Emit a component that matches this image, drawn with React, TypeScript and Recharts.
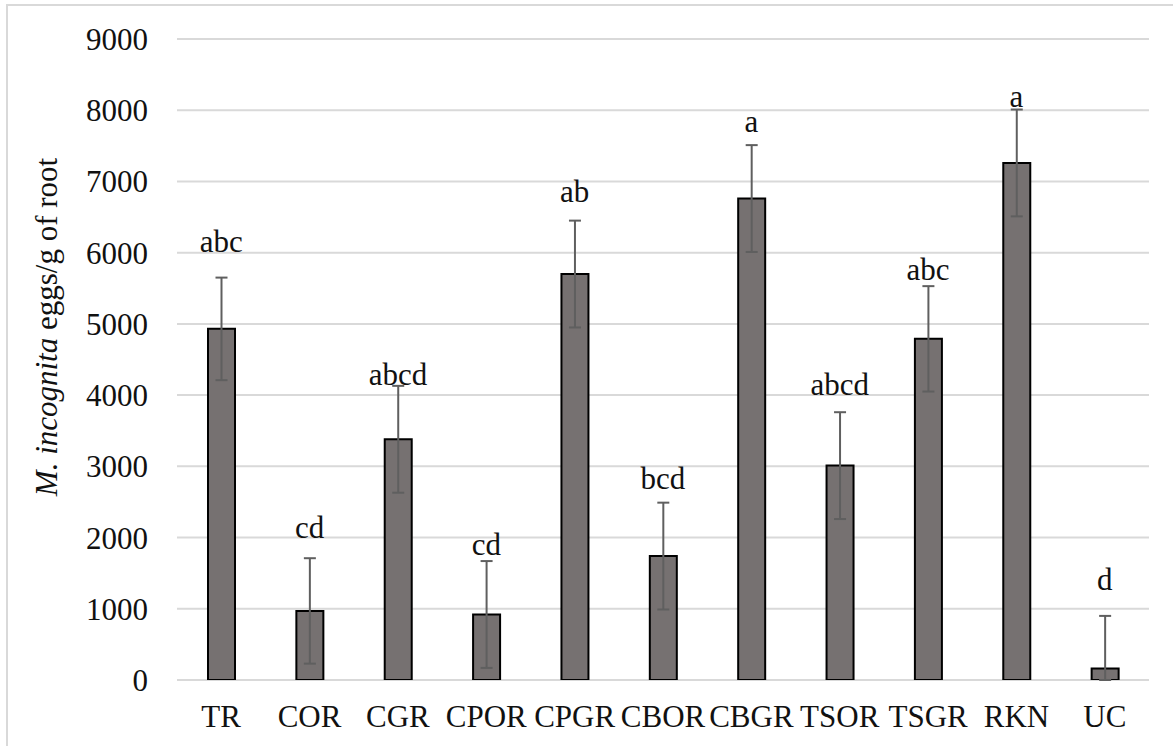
import { ComposedChart, Bar, ErrorBar, Scatter, XAxis, YAxis, CartesianGrid } from "recharts";

const treatments = ["TR", "COR", "CGR", "CPOR", "CPGR", "CBOR", "CBGR", "TSOR", "TSGR", "RKN", "UC"];
const eggs = [4930, 970, 3380, 920, 5700, 1740, 6760, 3010, 4790, 7260, 160];
const eggsErr = [720, 740, 750, 750, 750, 750, 750, 750, 740, 750, 740];
const letters = ["abc", "cd", "abcd", "cd", "ab", "bcd", "a", "abcd", "abc", "a", "d"];
// y value where each significance letter sits
const letterAt = [6010, 2000, 4140, 1755, 6710, 2680, 7700, 4000, 5620, 8050, 1265];
const yTicks = [0, 1000, 2000, 3000, 4000, 5000, 6000, 7000, 8000, 9000];

const FONT = "Liberation Serif, Times New Roman, DejaVu Serif, serif";
const textStyle = { fontFamily: FONT };

const data = treatments.map((t, i) => ({
  name: t,
  eggs: eggs[i],
  // lower whisker stops at the axis, as in the original
  err: [Math.min(eggsErr[i], eggs[i]), eggsErr[i]],
  letter: letters[i],
  letterAt: letterAt[i],
}));

const LetterShape = (props: any) => {
  const { cx, cy, payload } = props;
  return (
    <text x={cx} y={cy} textAnchor="middle" style={textStyle} fontSize={31} fill="#111">
      {payload.letter}
    </text>
  );
};

export default function App() {
  return (
    <div
      style={{
        position: "absolute",
        left: 0,
        top: 0,
        width: 1173,
        height: 746,
        overflow: "hidden",
        background: "#fff",
        fontFamily: FONT,
      }}
    >
      <div
        style={{
          position: "absolute",
          left: 6,
          top: 4,
          width: 2000,
          height: 2000,
          borderTop: "2px solid #d9d9d9",
          borderLeft: "2px solid #d9d9d9",
        }}
      />
      <div style={{ position: "absolute", left: 0, top: 0 }}>
        <ComposedChart width={1173} height={746} data={data} margin={{ top: 39, right: 24, bottom: 0, left: 0 }}>
          <CartesianGrid vertical={false} stroke="#d9d9d9" strokeWidth={2} />
          <XAxis
            dataKey="name"
            height={66}
            axisLine={false}
            tickLine={false}
            tickSize={0}
            tickMargin={25}
            interval={0}
            tick={{ fontSize: 31, fill: "#111", style: textStyle }}
          />
          <YAxis
            width={177}
            domain={[0, 9000]}
            allowDataOverflow
            ticks={yTicks}
            axisLine={false}
            tickLine={false}
            tickSize={0}
            tickMargin={29}
            tick={{ fontSize: 31, fill: "#111", style: textStyle }}
          />
          <Bar dataKey="eggs" fill="#767171" stroke="#000" strokeWidth={2} barSize={27} isAnimationActive={false}>
            <ErrorBar dataKey="err" width={6} stroke="#5f5f5f" strokeWidth={2} />
          </Bar>
          <Scatter dataKey="letterAt" shape={LetterShape} isAnimationActive={false} />
        </ComposedChart>
      </div>
      <svg width={1173} height={746} style={{ position: "absolute", left: 0, top: 0, pointerEvents: "none" }}>
        <text
          x={57}
          y={327}
          transform="rotate(-90 57 327)"
          textAnchor="middle"
          style={textStyle}
          fontSize={31}
          fill="#111"
        >
          <tspan fontStyle="italic">M. incognita</tspan>
          <tspan> eggs/g of root</tspan>
        </text>
      </svg>
    </div>
  );
}
